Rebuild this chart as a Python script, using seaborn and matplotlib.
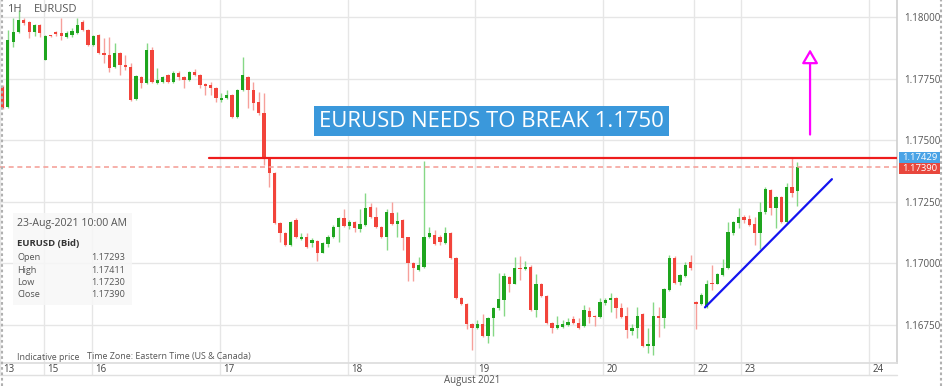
import numpy as np
import pandas as pd
import matplotlib
matplotlib.use("Agg")
import matplotlib.pyplot as plt
import matplotlib.transforms as mtrans
from matplotlib.patches import FancyArrowPatch, Rectangle
from matplotlib.lines import Line2D
import seaborn as sns

# ---------------- data (EURUSD, 1H candles) ----------------
opens = [
    1.17715, 1.17634, 1.17898, 1.17939, 1.17988, 1.17979, 1.17939, 1.17967, 1.17825, 1.17925,
    1.17939, 1.17935, 1.17918, 1.17927, 1.17935, 1.17979, 1.17947, 1.17886, 1.17927, 1.17853,
    1.17845, 1.17796, 1.17853, 1.17804, 1.17796, 1.17666, 1.17756, 1.17731, 1.17866, 1.17731,
    1.17735, 1.17764, 1.17735, 1.17772, 1.17756, 1.17743, 1.17776, 1.17764, 1.17727, 1.17723,
    1.17711, 1.17662, 1.17670, 1.17682, 1.17593, 1.17703, 1.17756, 1.17703, 1.17654, 1.17609,
    1.17426, 1.17365, 1.17161, 1.17121, 1.17072, 1.17175, 1.17096, 1.17104, 1.17080, 1.17088,
    1.17043, 1.17076, 1.17104, 1.17145, 1.17183, 1.17149, 1.17165, 1.17137, 1.17153, 1.17226,
    1.17187, 1.17145, 1.17104, 1.17202, 1.17157, 1.17175, 1.17104, 1.16999, 1.16970, 1.16986,
    1.17108, 1.17113, 1.17108, 1.17080, 1.17121, 1.17019, 1.16860, 1.16832, 1.16754, 1.16738,
    1.16754, 1.16705, 1.16775, 1.16816, 1.16852, 1.16942, 1.16917, 1.16982, 1.16974, 1.16986,
    1.16811, 1.16917, 1.16868, 1.16758, 1.16738, 1.16742, 1.16750, 1.16771, 1.16758, 1.16746,
    1.16807, 1.16787, 1.16779, 1.16836, 1.16852, 1.16860, 1.16816, 1.16783, 1.16722, 1.16738,
    1.16795, 1.16665, 1.16665, 1.16783, 1.16775, 1.16889, 1.17019, 1.16925, 1.16946, 1.17003,
    1.16840, 1.16832, 1.16820, 1.16921, 1.16917, 1.16950, 1.16978, 1.17121, 1.17161, 1.17187,
    1.17178, 1.17157, 1.17121, 1.17206, 1.17296, 1.17222, 1.17267, 1.17165, 1.17308, 1.17293,
]
highs = [
    1.17723, 1.17947, 1.17996, 1.18028, 1.17996, 1.17984, 1.17971, 1.17971, 1.17927, 1.17927,
    1.17943, 1.17996, 1.17943, 1.17955, 1.17996, 1.17988, 1.17951, 1.17927, 1.17931, 1.17914,
    1.17918, 1.17894, 1.17857, 1.17845, 1.17813, 1.17764, 1.17760, 1.17894, 1.17878, 1.17792,
    1.17760, 1.17768, 1.17780, 1.17780, 1.17760, 1.17780, 1.17788, 1.17768, 1.17731, 1.17735,
    1.17715, 1.17690, 1.17703, 1.17686, 1.17707, 1.17837, 1.17760, 1.17735, 1.17695, 1.17690,
    1.17430, 1.17369, 1.17165, 1.17125, 1.17170, 1.17183, 1.17121, 1.17121, 1.17100, 1.17092,
    1.17084, 1.17113, 1.17153, 1.17187, 1.17218, 1.17175, 1.17170, 1.17218, 1.17284, 1.17243,
    1.17226, 1.17149, 1.17218, 1.17247, 1.17206, 1.17178, 1.17108, 1.17003, 1.17023, 1.17416,
    1.17145, 1.17133, 1.17113, 1.17145, 1.17125, 1.17023, 1.16864, 1.16836, 1.16758, 1.16767,
    1.16795, 1.16779, 1.16820, 1.16958, 1.16958, 1.16946, 1.17023, 1.17027, 1.17007, 1.16991,
    1.16954, 1.16921, 1.16872, 1.16762, 1.16787, 1.16767, 1.16775, 1.16783, 1.16775, 1.16828,
    1.16820, 1.16791, 1.16860, 1.16860, 1.16877, 1.16864, 1.16836, 1.16820, 1.16754, 1.16820,
    1.16799, 1.16738, 1.16840, 1.16820, 1.16897, 1.17031, 1.17027, 1.16954, 1.17003, 1.17031,
    1.16844, 1.16877, 1.16933, 1.16991, 1.16958, 1.17015, 1.17165, 1.17170, 1.17222, 1.17194,
    1.17194, 1.17187, 1.17247, 1.17308, 1.17300, 1.17271, 1.17271, 1.17324, 1.17425, 1.17411,
]
lows = [
    1.17625, 1.17629, 1.17878, 1.17935, 1.17967, 1.17914, 1.17922, 1.17918, 1.17825, 1.17918,
    1.17922, 1.17906, 1.17914, 1.17918, 1.17931, 1.17943, 1.17882, 1.17882, 1.17849, 1.17813,
    1.17776, 1.17792, 1.17764, 1.17784, 1.17658, 1.17662, 1.17711, 1.17727, 1.17731, 1.17727,
    1.17731, 1.17731, 1.17731, 1.17743, 1.17711, 1.17739, 1.17760, 1.17711, 1.17682, 1.17682,
    1.17654, 1.17654, 1.17666, 1.17589, 1.17589, 1.17699, 1.17629, 1.17621, 1.17601, 1.17397,
    1.17308, 1.17157, 1.17084, 1.17068, 1.17068, 1.17100, 1.17092, 1.17060, 1.17064, 1.17007,
    1.17039, 1.17064, 1.17100, 1.17084, 1.17145, 1.17137, 1.17125, 1.17125, 1.17149, 1.17183,
    1.17141, 1.17100, 1.17052, 1.17153, 1.17108, 1.17052, 1.16929, 1.16929, 1.16966, 1.16982,
    1.17100, 1.17072, 1.17072, 1.17076, 1.17015, 1.16856, 1.16828, 1.16734, 1.16645, 1.16734,
    1.16701, 1.16677, 1.16705, 1.16811, 1.16787, 1.16881, 1.16913, 1.16933, 1.16970, 1.16807,
    1.16779, 1.16864, 1.16754, 1.16714, 1.16734, 1.16738, 1.16746, 1.16754, 1.16734, 1.16742,
    1.16758, 1.16746, 1.16775, 1.16828, 1.16803, 1.16775, 1.16775, 1.16697, 1.16709, 1.16697,
    1.16657, 1.16636, 1.16628, 1.16701, 1.16738, 1.16885, 1.16917, 1.16909, 1.16942, 1.16970,
    1.16734, 1.16828, 1.16816, 1.16889, 1.16913, 1.16946, 1.16974, 1.17113, 1.17141, 1.17161,
    1.17149, 1.17072, 1.17056, 1.17198, 1.17194, 1.17141, 1.17161, 1.17161, 1.17267, 1.17230,
]
closes = [
    1.17629, 1.17906, 1.17939, 1.17988, 1.17975, 1.17939, 1.17967, 1.17935, 1.17922, 1.17921,
    1.17931, 1.17922, 1.17935, 1.17943, 1.17967, 1.17947, 1.17886, 1.17922, 1.17853, 1.17845,
    1.17792, 1.17853, 1.17804, 1.17796, 1.17662, 1.17760, 1.17731, 1.17866, 1.17735, 1.17743,
    1.17756, 1.17735, 1.17772, 1.17756, 1.17743, 1.17776, 1.17764, 1.17723, 1.17719, 1.17711,
    1.17670, 1.17670, 1.17682, 1.17593, 1.17703, 1.17764, 1.17703, 1.17650, 1.17609, 1.17426,
    1.17365, 1.17161, 1.17121, 1.17072, 1.17165, 1.17104, 1.17104, 1.17064, 1.17092, 1.17043,
    1.17080, 1.17108, 1.17145, 1.17183, 1.17149, 1.17165, 1.17141, 1.17157, 1.17222, 1.17187,
    1.17145, 1.17104, 1.17206, 1.17157, 1.17170, 1.17100, 1.16999, 1.16978, 1.16991, 1.17108,
    1.17121, 1.17076, 1.17084, 1.17121, 1.17019, 1.16860, 1.16832, 1.16754, 1.16738, 1.16754,
    1.16705, 1.16775, 1.16816, 1.16856, 1.16946, 1.16917, 1.16982, 1.16974, 1.16986, 1.16811,
    1.16913, 1.16868, 1.16758, 1.16738, 1.16750, 1.16754, 1.16762, 1.16758, 1.16738, 1.16811,
    1.16779, 1.16779, 1.16840, 1.16852, 1.16860, 1.16816, 1.16779, 1.16730, 1.16738, 1.16787,
    1.16665, 1.16673, 1.16783, 1.16775, 1.16893, 1.17019, 1.16921, 1.16950, 1.16991, 1.16982,
    1.16832, 1.16872, 1.16917, 1.16913, 1.16954, 1.16982, 1.17125, 1.17165, 1.17187, 1.17175,
    1.17153, 1.17121, 1.17206, 1.17300, 1.17222, 1.17267, 1.17165, 1.17308, 1.17284, 1.17390,
]

day_labels = ["13", "15", "16", "17", "18", "19", "20", "22", "23", "24"]
day_ticks = [-0.47, 7.8, 16.8, 40.8, 64.8, 88.6, 112.6, 129.7, 138.5, 162.5]  # bar index of day start
price_ticks = [1.1675, 1.1700, 1.1725, 1.1750, 1.1775, 1.1800]

resistance = 1.17429
last_close = 1.17390
resistance_start = 38.7          # bar index where the drawn line begins
trend_x = [131.7, 155.5]         # bar index of trend line ends
trend_y = [1.16820, 1.17341]
arrow_x = 151.4
arrow_y = [1.17511, 1.17880]

info_rows = [("Open", "1.17293"), ("High", "1.17411"), ("Low", "1.17230"), ("Close", "1.17390")]

# ---------------- style ----------------
sns.set_theme(style="white")
plt.rcParams['font.family'] = ['Open Sans', 'DejaVu Sans']

W, H = 944, 386
fig = plt.figure(figsize=(W / 100, H / 100), dpi=100)
fig.patch.set_facecolor("white")
ax = fig.add_axes([0, 23 / H, 897 / W, 363 / H])
ax.set_facecolor("white")

df = pd.DataFrame({"open": opens, "high": highs, "low": lows, "close": closes})
df["idx"] = np.arange(len(df))
up = df["close"] >= df["open"]

GREEN, RED = "#1ea51e", "#f2443b"
GREEN_W, RED_W = "#86d886", "#f6a09b"

ax.vlines(df["idx"], df["low"], df["high"],
          colors=np.where(up, GREEN_W, RED_W), linewidth=1.0, zorder=2)
body_bottom = np.minimum(df["open"], df["close"])
body_h = np.maximum((df["close"] - df["open"]).abs(), 0.00003)
ax.bar(df["idx"], body_h, bottom=body_bottom, width=0.62,
       color=np.where(up, GREEN, RED), linewidth=0, zorder=3)

# axis limits / grid
ax.set_xlim(-0.469, 167.7)
ax.set_ylim(1.16594, 1.18069)
ax.set_yticks(price_ticks)
ax.set_yticklabels([f"{v:.5f}" for v in price_ticks])
ax.yaxis.tick_right()
ax.tick_params(axis="y", length=0, pad=5, labelsize=7, labelcolor="#555555")
ax.set_xticks(day_ticks)
ax.set_xticklabels([])
ax.tick_params(axis="x", length=0)
ax.grid(True, color="#e6e6e6", linewidth=1.0, zorder=0)
ax.set_axisbelow(True)
for s in ["top", "left"]:
    ax.spines[s].set_visible(False)
ax.spines["right"].set_color("#d0d0d0")
ax.spines["bottom"].set_color("#dddddd")

# date row
blend = mtrans.blended_transform_factory(ax.transData, ax.transAxes)
lab_tr = mtrans.offset_copy(blend, fig=fig, x=3, y=0, units="dots")
for t, lab in zip(day_ticks, day_labels):
    ax.plot([t, t], [0, -12 / 363], transform=blend, color="#e6e6e6", lw=1, clip_on=False)
    ax.text(t, -6 / 363, lab, transform=lab_tr, ha="left", va="center",
            fontsize=7, color="#444444", clip_on=False)
fig.add_artist(Line2D([0, 897 / W], [1 - 375 / H] * 2, color="#e0e0e0", lw=1))
fig.text(472 / W, 1 - 381 / H, "August 2021", ha="center", va="center", fontsize=7, color="#555555")

# horizontal levels
sns.lineplot(x=[resistance_start, 167.7], y=[resistance, resistance], ax=ax,
             color="#ee1c1c", linewidth=1.6, zorder=5)
ax.axhline(last_close, color="#f5a39c", linewidth=1.2, linestyle=(0, (3, 2.2)), zorder=4)

# trend line
sns.lineplot(x=trend_x, y=trend_y, ax=ax, color="#1414f0", linewidth=1.6, zorder=6)

# magenta arrow (open head)
arr = FancyArrowPatch((arrow_x, arrow_y[0]), (arrow_x, arrow_y[1]),
                      arrowstyle="-|>,head_length=0.6,head_width=0.35",
                      mutation_scale=14, linewidth=1.6,
                      facecolor="white", edgecolor="#ff00ff", zorder=7)
ax.add_patch(arr)

# title box
ax.text(91.7, 1.17577, "EURUSD NEEDS TO BREAK 1.1750", ha="center", va="center",
        fontsize=15.9, color="white", zorder=8,
        bbox=dict(boxstyle="square,pad=0.22", fc="#3a98db", ec="none"))

# top-left labels
fig.text(7 / W, 1 - 10 / H, "1H", ha="left", va="center", fontsize=8, color="#555555")
fig.text(34 / W, 1 - 10 / H, "EURUSD", ha="left", va="center", fontsize=8, color="#555555")

# info box
fig.add_artist(Rectangle((13 / W, 1 - 305 / H), 119 / W, 92 / H, transform=fig.transFigure,
                         fc="#f7f7f7", ec="none", alpha=0.85, zorder=9))
fig.text(17 / W, 1 - 224 / H, "23-Aug-2021 10:00 AM", ha="left", va="center",
         fontsize=7.6, color="#555555", zorder=10)
fig.text(17 / W, 1 - 243 / H, "EURUSD (Bid)", ha="left", va="center",
         fontsize=6.8, color="#333333", fontweight="bold", zorder=10)
for k, (name, val) in enumerate(info_rows):
    yy = 1 - (258 + 12.2 * k) / H
    fig.text(17 / W, yy, name, ha="left", va="center", fontsize=6.6, color="#555555", zorder=10)
    fig.text(125 / W, yy, val, ha="right", va="center", fontsize=6.6, color="#555555", zorder=10)

fig.text(17 / W, 1 - 357 / H, "Indicative price", ha="left", va="center", fontsize=6.4, color="#555555")
fig.text(87 / W, 1 - 357 / H, "Time Zone: Eastern Time (US & Canada)", ha="left", va="center",
         fontsize=6.4, color="#555555")

# right price tags
fig.add_artist(Rectangle((899 / W, 1 - 163 / H), 41 / W, 11 / H, transform=fig.transFigure,
                         fc="#4aa3e6", ec="none", zorder=9))
fig.text(902 / W, 1 - 157.5 / H, "1.17429", ha="left", va="center", fontsize=6.8, color="white", zorder=10)
fig.add_artist(Rectangle((899 / W, 1 - 174 / H), 41 / W, 11 / H, transform=fig.transFigure,
                         fc="#e8473d", ec="none", zorder=9))
fig.text(902 / W, 1 - 168.5 / H, "1.17390", ha="left", va="center", fontsize=6.8, color="white", zorder=10)

# dotted frame borders
for xp in (1.5, 940.5):
    fig.add_artist(Line2D([xp / W] * 2, [0, 1], color="#b0b0b0", lw=1.5,
                          linestyle=(0, (1.3, 1.3)), zorder=11))

fig.savefig("out.png", dpi=100, facecolor="white")
